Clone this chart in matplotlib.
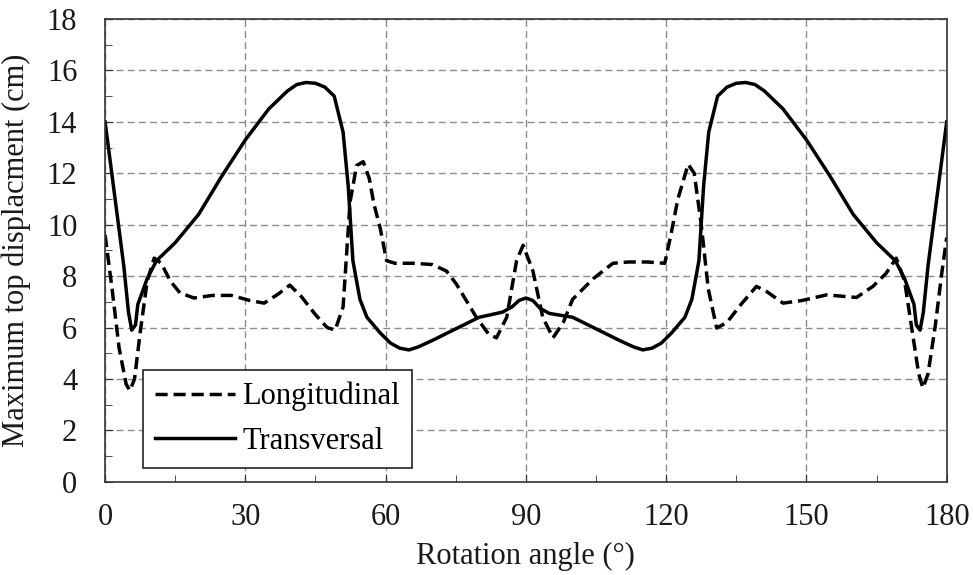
import matplotlib
matplotlib.use("Agg")
import matplotlib.pyplot as plt
from matplotlib.ticker import MultipleLocator

plt.rcParams['font.family'] = ['Liberation Serif', 'DejaVu Serif']

# rotation angle (deg) and max top displacement (cm)
trans_x = [0, 2, 4, 5, 5.7, 6.5, 7, 9, 11, 15, 20, 25, 30, 35, 39, 41, 43, 45,
           47, 49, 50.9, 52, 53, 54.5, 56, 58.8, 61, 63, 65, 67, 70, 75, 80,
           85, 87, 88.5, 90, 91.5, 93, 95, 100, 105, 110, 113, 115, 117, 119,
           121.2, 124, 125.5, 127, 128, 129.1, 131, 133, 135, 137, 139, 141,
           145, 150, 155, 160, 165, 169, 171, 173, 173.5, 174.3, 175, 176,
           178, 180]
trans_y = [14.0, 11.2, 8.4, 6.6, 5.9, 6.1, 6.9, 7.9, 8.6, 9.3, 10.4, 11.9,
           13.3, 14.5, 15.2, 15.45, 15.53, 15.5, 15.35, 15.0, 13.6, 11.5, 8.6,
           7.1, 6.4, 5.8, 5.4, 5.2, 5.13, 5.25, 5.5, 5.95, 6.4, 6.6, 6.8, 7.05,
           7.15, 7.05, 6.75, 6.55, 6.4, 5.95, 5.5, 5.25, 5.13, 5.2, 5.4, 5.8,
           6.4, 7.1, 8.6, 11.5, 13.6, 15.0, 15.35, 15.5, 15.53, 15.45, 15.2,
           14.5, 13.3, 11.9, 10.4, 9.3, 8.6, 7.9, 6.9, 6.1, 5.9, 6.6, 8.4,
           11.2, 14.0]

long_x = [0, 1.5, 3, 4.5, 5.3, 6.3, 7.5, 9, 10.5, 12, 14, 16, 19, 23, 27,
          31, 34, 37, 39.5, 42, 45, 47.5, 49.2, 50.9, 52.4, 53.8, 55.2, 56.5,
          57.5, 58.8, 60.2, 62, 66, 70, 73, 75.1, 79.4, 82, 83.7, 85.9, 88,
          89.4, 91.5, 93.6, 95.8, 98, 100, 104.4, 108.6, 112, 116, 119.7,
          121, 122.5, 124.7, 126, 127.5, 129, 130.8, 133, 136, 139.3, 141.5,
          145, 149, 154.3, 160.7, 164.2, 167, 169.2, 171, 172.5, 174, 174.9,
          176, 177.5, 179, 180]
long_y = [9.6, 7.5, 5.2, 3.8, 3.55, 4.0, 5.8, 7.8, 8.7, 8.5, 7.8, 7.35, 7.15,
          7.25, 7.25, 7.05, 6.95, 7.3, 7.65, 7.2, 6.5, 6.0, 5.9, 6.8, 10.9,
          12.3, 12.45, 11.8, 10.8, 9.9, 8.6, 8.5, 8.5, 8.45, 8.2, 7.7, 6.4,
          5.75, 5.6, 6.4, 8.6, 9.2, 8.2, 6.4, 5.6, 6.2, 7.1, 7.9, 8.5, 8.55,
          8.55, 8.5, 9.6, 11.0, 12.35, 12.0, 10.0, 7.5, 5.98, 6.2, 6.9, 7.6,
          7.4, 6.95, 7.05, 7.27, 7.17, 7.6, 8.1, 8.7, 7.8, 6.0, 4.2, 3.65,
          4.2, 6.0, 8.2, 9.5]

x_ticks = [0, 30, 60, 90, 120, 150, 180]
y_ticks = [0, 2, 4, 6, 8, 10, 12, 14, 16, 18]

fig = plt.figure(figsize=(9.73, 5.75), dpi=100)
ax = fig.add_axes([0.108, 0.162, 0.865, 0.805])

ax.plot(long_x, long_y, color='black', lw=2.5, dashes=(3.5, 1.7),
        label='Longitudinal')
ax.plot(trans_x, trans_y, color='black', lw=2.5, label='Transversal')

ax.set_xlim(0, 180)
ax.set_ylim(0, 18)
ax.set_xticks(x_ticks)
ax.set_yticks(y_ticks)
ax.xaxis.set_minor_locator(MultipleLocator(15))
ax.yaxis.set_minor_locator(MultipleLocator(1))
ax.tick_params(which='both', direction='in', top=False, right=False,
               labelsize=22, colors='#333333', labelcolor='#1a1a1a')
ax.tick_params(which='major', length=6)
ax.tick_params(which='minor', length=5)
ax.tick_params(axis='x', pad=15)
ax.tick_params(axis='y', pad=20)

ax.grid(True, which='major', color='#8c8c8c', lw=1.0, dashes=(5, 3))
for s in ax.spines.values():
    s.set_color('#333333')
    s.set_linewidth(1.2)

ax.set_xlabel('Rotation angle (°)', fontsize=22, color='#1a1a1a')
ax.set_ylabel('Maximum top displacment (cm)', fontsize=22, color='#1a1a1a')
ax.xaxis.set_label_coords(0.5, -0.13)
ax.yaxis.set_label_coords(-0.088, 0.5)

leg = ax.legend(loc='lower left', bbox_to_anchor=(0.045, 0.03),
                fontsize=22, frameon=True, fancybox=False,
                handlelength=2.6, handletextpad=0.25, borderpad=0.4,
                labelspacing=0.5, borderaxespad=0)
leg.get_frame().set_edgecolor('#222222')
leg.get_frame().set_linewidth(1.2)
leg.get_frame().set_alpha(1)

fig.savefig('out.png', dpi=100, facecolor='white')
